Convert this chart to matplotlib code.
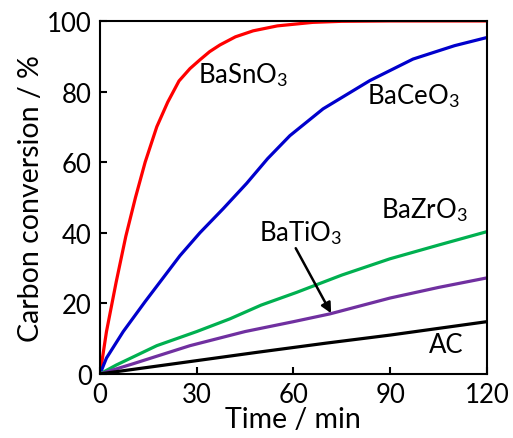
import numpy as np
import matplotlib.pyplot as plt

plt.rcParams['font.family'] = ['Lato', 'DejaVu Sans']
plt.rcParams['mathtext.fontset'] = 'custom'
plt.rcParams['mathtext.rm'] = 'Lato'
plt.rcParams['mathtext.it'] = 'Lato:italic'

# BaSnO3
t_sn = [0, 2, 5, 8, 11, 14, 17.6, 21, 24.5, 27.9, 31, 34, 37.2, 42, 47.5, 55, 66, 75, 90, 105, 120]
v_sn = [0, 12, 26, 39, 50, 60, 70, 77, 83, 86.5, 89, 91.3, 93.2, 95.5, 97.2, 98.6, 99.6, 99.9, 100, 100, 100]
# BaCeO3
t_ce = [0, 2, 7.2, 14, 24.8, 31, 38.2, 45.5, 52, 58.9, 69.2, 83.7, 97.1, 110, 120]
v_ce = [0, 4.5, 12, 20.5, 33.5, 40, 46.8, 54, 61, 67.5, 75.1, 83.1, 89.2, 93, 95.3]
# BaZrO3
t_zr = [0, 5, 17.6, 30, 40.3, 50, 61, 75, 89.9, 105, 120]
v_zr = [0, 2.5, 8.0, 12, 15.6, 19.5, 23.1, 28, 32.6, 36.5, 40.3]
# BaTiO3
t_ti = [0, 10, 27.9, 45, 60, 71.3, 90, 105, 120]
v_ti = [0, 2.8, 8.0, 12, 14.8, 17, 21.5, 24.5, 27.2]
# AC
t_ac = [0, 20, 48.6, 70, 90, 120]
v_ac = [0, 2.5, 6.1, 8.7, 11, 14.8]

fig = plt.figure(figsize=(5.13, 4.39), dpi=100)
ax = fig.add_axes([0.195, 0.146, 0.754, 0.804])

lw = 2.3
ax.plot(t_sn, v_sn, color='#ff0000', lw=lw)
ax.plot(t_ce, v_ce, color='#0000cc', lw=lw)
ax.plot(t_zr, v_zr, color='#00b050', lw=lw)
ax.plot(t_ti, v_ti, color='#7030a0', lw=lw)
ax.plot(t_ac, v_ac, color='#000000', lw=lw)

fs = 18.5
ax.text(30.5, 85, 'BaSnO$_3$', fontsize=fs, va='center', ha='left')
ax.text(82.7, 79, 'BaCeO$_3$', fontsize=fs, va='center', ha='left')
ax.text(87.3, 46.7, 'BaZrO$_3$', fontsize=fs, va='center', ha='left')
ax.text(49.3, 40.2, 'BaTiO$_3$', fontsize=fs, va='center', ha='left')
ax.text(102, 8.2, 'AC', fontsize=fs, va='center', ha='left')
ax.annotate('', xy=(72.1, 16.5), xytext=(60.3, 36.3),
            arrowprops=dict(arrowstyle='-|>', color='black', lw=1.8, mutation_scale=15))

ax.set_xlim(0, 120)
ax.set_ylim(0, 100)
ax.set_xticks([0, 30, 60, 90, 120])
ax.set_yticks([0, 20, 40, 60, 80, 100])
ax.tick_params(direction='in', length=5, width=1.5, labelsize=18.5, pad=6)
for s in ax.spines.values():
    s.set_linewidth(1.5)
ax.set_xlabel('Time / min', fontsize=20.5, labelpad=-1)
ax.set_ylabel('Carbon conversion / %', fontsize=20.5, labelpad=2)

fig.savefig('out.png', dpi=100)
